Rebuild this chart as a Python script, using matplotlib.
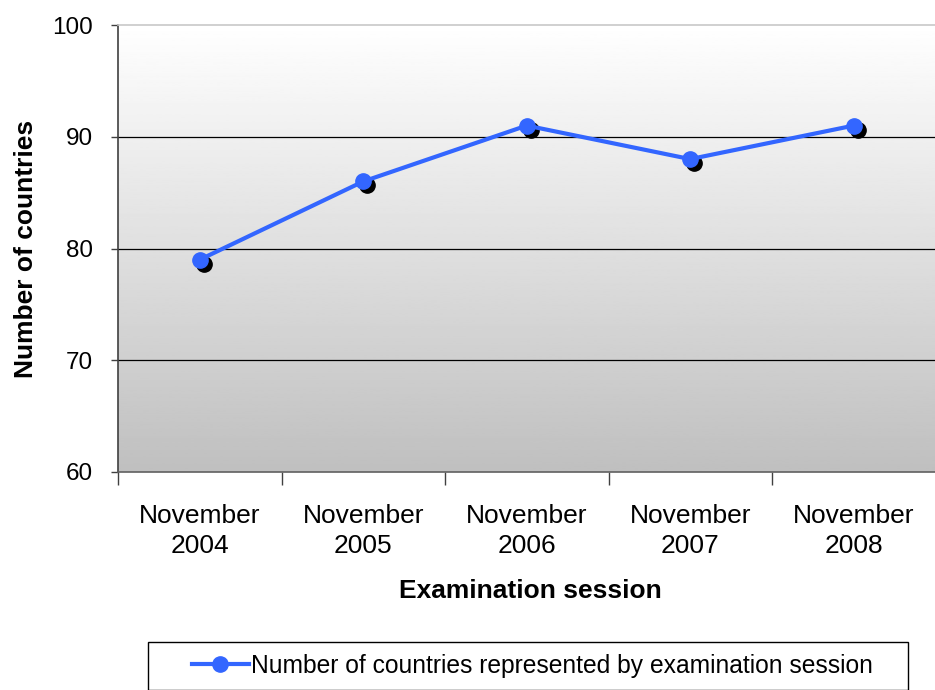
import numpy as np
import matplotlib
matplotlib.use("Agg")
import matplotlib.pyplot as plt
import matplotlib.transforms as mtransforms
from matplotlib.patches import Rectangle

# 数据
sessions = ["November\n2004", "November\n2005", "November\n2006",
            "November\n2007", "November\n2008"]
countries = [79, 86, 91, 88, 91]
series_name = "Number of countries represented by examination session"

plt.rcParams["font.family"] = ["Liberation Sans", "DejaVu Sans"]

W, H = 935, 690
fig = plt.figure(figsize=(W / 100, H / 100), dpi=100)
ax = fig.add_axes([118 / W, 1 - 472 / H, (935.5 - 118) / W, (472 - 25) / H])

x = np.arange(len(countries))
ax.set_xlim(-0.5, len(countries) - 0.5)
ax.set_ylim(60, 100)

# 渐变背景（上白下灰）
grad = np.linspace(0.75, 1.0, 256).reshape(-1, 1)
ax.imshow(grad, cmap="gray", vmin=0, vmax=1, aspect="auto", origin="lower",
          extent=[-0.5, len(countries) - 0.5, 60, 100], zorder=0)

# 网格线
for yv in [70, 80, 90]:
    ax.axhline(yv, color="black", lw=0.9, zorder=1)

# 阴影 + 折线
shadow = mtransforms.offset_copy(ax.transData, fig=fig, x=4, y=-4, units="dots")
ax.plot(x, countries, "o", color="black", ms=11, transform=shadow, zorder=2)
ax.plot(x, countries, "-o", color="#3366ff", lw=3, ms=11, zorder=3,
        label=series_name)

# 坐标轴
ax.set_yticks([60, 70, 80, 90, 100])
ax.tick_params(axis="y", direction="out", length=5, width=1, color="#404040",
               labelsize=17.5, pad=13)
ax.set_xticks(x)
ax.set_xticklabels(sessions, fontsize=19, linespacing=1.3)
ax.tick_params(axis="x", which="major", length=0, pad=23)
ax.set_xticks(np.arange(-0.5, len(countries), 1), minor=True)
ax.tick_params(axis="x", which="minor", length=9, width=1, color="#404040")

ax.spines["left"].set_color("#404040")
ax.spines["bottom"].set_color("#606060")
ax.spines["top"].set_color("#c8c8c8")
ax.spines["right"].set_visible(False)
for s in ax.spines.values():
    s.set_linewidth(1.2)

ax.set_ylabel("Number of countries", fontsize=19, fontweight="bold", labelpad=10)
fig.text(530 / W, 1 - 591 / H, "Examination session", fontsize=19,
         fontweight="bold", ha="center", va="center")

# 图例框
fig.patches.append(Rectangle((148 / W, 0), (908 - 148) / W, 1 - 642 / H,
                             transform=fig.transFigure, fill=False,
                             edgecolor="black", lw=1))
fig.legend(loc="center", bbox_to_anchor=(532 / W, 1 - 666 / H), frameon=False,
           fontsize=17.7, handlelength=2.35, handletextpad=0.05)

fig.savefig("out.png", dpi=100)
